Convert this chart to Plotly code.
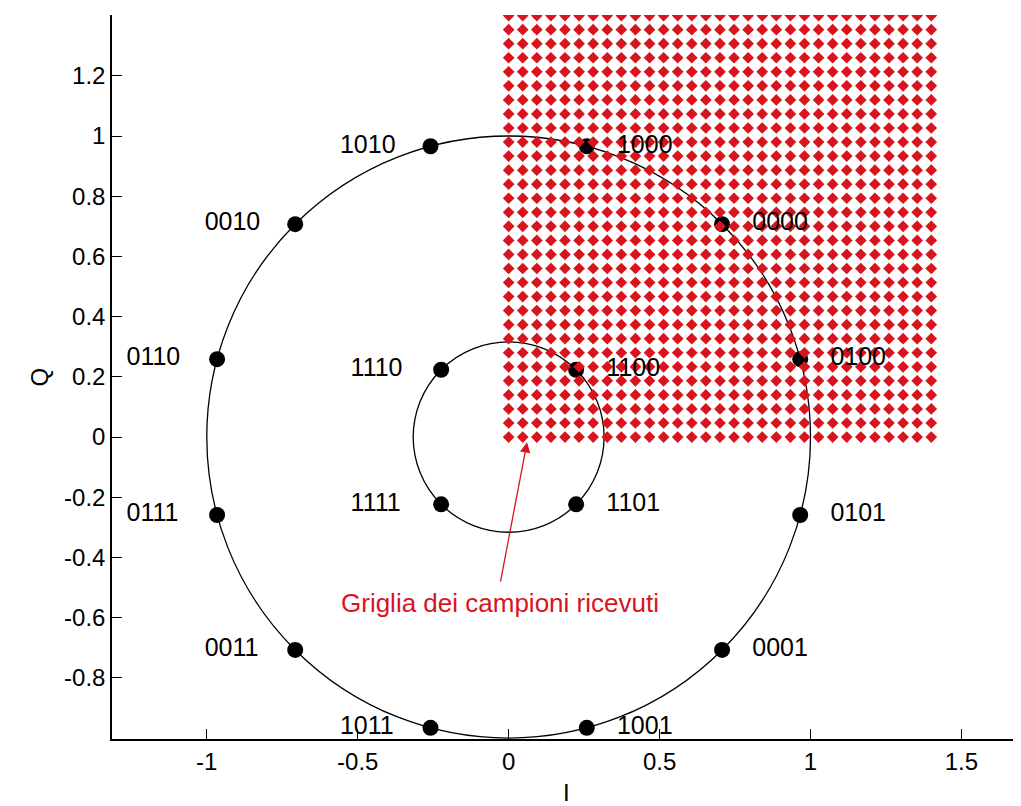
import numpy as np
import plotly.graph_objects as go

# ---- data ----
outer_I = [0.9659, 0.7071, 0.2588, -0.2588, -0.7071, -0.9659, -0.9659, -0.7071, -0.2588, 0.2588, 0.7071, 0.9659]
outer_Q = [0.2588, 0.7071, 0.9659, 0.9659, 0.7071, 0.2588, -0.2588, -0.7071, -0.9659, -0.9659, -0.7071, -0.2588]
outer_labels = ["0100", "0000", "1000", "1010", "0010", "0110", "0111", "0011", "1011", "1001", "0001", "0101"]
inner_I = [0.2236, -0.2236, -0.2236, 0.2236]
inner_Q = [0.2236, 0.2236, -0.2236, -0.2236]
inner_labels = ["1100", "1110", "1111", "1101"]
outer_radius = 1.0
inner_radius = 0.3162
grid_min, grid_max, grid_n = 0.0, 1.4, 31
x_ticks = [-1, -0.5, 0, 0.5, 1, 1.5]
x_ticktext = ["-1", "-0.5", "0", "0.5", "1", "1.5"]
y_ticks = [-0.8, -0.6, -0.4, -0.2, 0, 0.2, 0.4, 0.6, 0.8, 1, 1.2]
y_ticktext = ["-0.8", "-0.6", "-0.4", "-0.2", "0", "0.2", "0.4", "0.6", "0.8", "1", "1.2"]
annot_text = "Griglia dei campioni ricevuti"

FONT = "Liberation Sans, Arial, sans-serif"
RED = "#d8141e"

all_I = outer_I + inner_I
all_Q = outer_Q + inner_Q
all_labels = outer_labels + inner_labels

fig = go.Figure()

# circles
for r in (outer_radius, inner_radius):
    fig.add_shape(type="circle", xref="x", yref="y", x0=-r, y0=-r, x1=r, y1=r,
                  line=dict(color="black", width=1.3), layer="below")

# constellation points
fig.add_trace(go.Scatter(x=all_I, y=all_Q, mode="markers",
                         marker=dict(color="black", size=16, symbol="circle"),
                         showlegend=False, hoverinfo="skip", cliponaxis=False))

# received samples grid
g = np.linspace(grid_min, grid_max, grid_n)
GX, GY = np.meshgrid(g, g)
fig.add_trace(go.Scatter(x=GX.ravel(), y=GY.ravel(), mode="markers",
                         marker=dict(color=RED, size=9, symbol="diamond", line=dict(width=0)),
                         showlegend=False, hoverinfo="skip"))

# labels
lx, ly, lt = [], [], []
for i, q, t in zip(all_I, all_Q, all_labels):
    lx.append(i + 0.1 if i > 0 else i - 0.3)
    ly.append(q)
    lt.append(t)
fig.add_trace(go.Scatter(x=lx, y=ly, text=lt, mode="text", textposition="middle right",
                         textfont=dict(family=FONT, size=25, color="black"),
                         showlegend=False, hoverinfo="skip", cliponaxis=False))

# arrow + text
fig.add_annotation(x=0.061, y=-0.017, ax=-0.028, ay=-0.485, xref="x", yref="y",
                   axref="x", ayref="y", text="", showarrow=True,
                   arrowhead=2, arrowsize=1.6, arrowwidth=1.3, arrowcolor=RED)
fig.add_annotation(x=-0.03, y=-0.55, xref="x", yref="y", text=annot_text,
                   showarrow=False, font=dict(family=FONT, size=26, color=RED))

# axis titles
fig.add_annotation(x=0.5, y=0, xref="paper", yref="paper", yanchor="top", yshift=-38,
                   text="I", showarrow=False,
                   font=dict(family=FONT, size=24, color="black"))
fig.add_annotation(x=-0.098, y=0.5, xref="paper", yref="paper", text="Q", textangle=-90,
                   showarrow=False, font=dict(family=FONT, size=24, color="black"))

fig.update_layout(
    width=1013, height=798,
    margin=dict(l=104, r=1, t=7, b=67),
    paper_bgcolor="white", plot_bgcolor="white",
    font=dict(family=FONT, size=24, color="black"),
)

fig.update_xaxes(range=[-1.314, 1.694], tickvals=x_ticks, ticktext=x_ticktext,
                 showgrid=False, zeroline=False, showline=True, linecolor="black",
                 linewidth=1.5, ticks="inside", ticklen=10, tickcolor="black",
                 tickfont=dict(size=24), automargin=False)
fig.update_yaxes(range=[-1.003, 1.402], tickvals=y_ticks, ticktext=y_ticktext,
                 showgrid=False, zeroline=False, showline=True, linecolor="black",
                 linewidth=1.5, ticks="inside", ticklen=10, tickcolor="black",
                 tickfont=dict(size=24), automargin=False)

fig.write_html("out.html")
